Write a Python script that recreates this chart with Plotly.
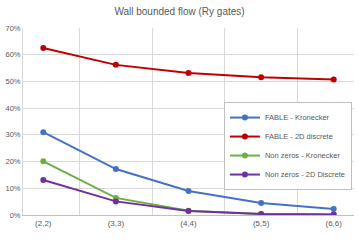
import plotly.graph_objects as go

categories = ["(2,2)", "(3,3)", "(4,4)", "(5,5)", "(6,6)"]
fable_kron = [0.310, 0.172, 0.090, 0.045, 0.022]
fable_2d = [0.625, 0.562, 0.532, 0.516, 0.507]
nz_kron = [0.201, 0.064, 0.016, 0.004, 0.002]
nz_2d = [0.131, 0.051, 0.015, 0.004, 0.002]
names = ["FABLE - Kronecker", "FABLE - 2D discrete", "Non zeros - Kronecker", "Non zeros - 2D Discrete"]
colors = ["#4472C4", "#C00000", "#70AD47", "#7030A0"]
series = [fable_kron, fable_2d, nz_kron, nz_2d]

fig = go.Figure()
for n, c, s in zip(names, colors, series):
    fig.add_trace(go.Scatter(x=categories, y=s, name=n, mode="lines+markers",
                             line=dict(color=c, width=2), marker=dict(color=c, size=6)))

fig.update_layout(
    width=359, height=245,
    margin=dict(l=21, r=5, t=28, b=30),
    paper_bgcolor="white", plot_bgcolor="white",
    font=dict(family="Liberation Sans, Arial, sans-serif", color="#595959", size=8),
    title=dict(text="Wall bounded flow (Ry gates)", x=0.5, xanchor="center", y=0.955, yanchor="middle",
               font=dict(size=10, color="#595959")),
    legend=dict(x=0.607, y=0.604, xanchor="left", yanchor="top", bgcolor="white",
                bordercolor="#BFBFBF", borderwidth=1, font=dict(size=7.5, color="#595959"),
                itemwidth=30, tracegroupgap=0),
    xaxis=dict(type="category", tickson="boundaries", showgrid=True, gridcolor="#D9D9D9",
               showline=True, linecolor="#BFBFBF", ticks="", tickfont=dict(size=8),
               mirror=False),
    yaxis=dict(range=[0, 0.7], dtick=0.1, tickformat=".0%", showgrid=True, gridcolor="#D9D9D9",
               showline=True, linecolor="#D9D9D9", ticks="", zeroline=False, tickfont=dict(size=7.5)),
)
fig.write_html("out.html", post_script="document.body.style.margin='0';",
               config={"displayModeBar": False})
